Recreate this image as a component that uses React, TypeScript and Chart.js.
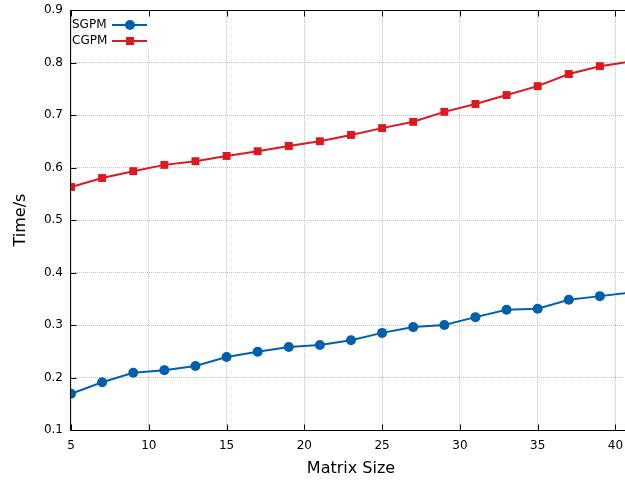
import React, { useEffect, useRef } from "react";
import { Chart, registerables } from "chart.js";

Chart.register(...registerables);

const matrixSizes = [5, 7, 9, 11, 13, 15, 17, 19, 21, 23, 25, 27, 29, 31, 33, 35, 37, 39, 41];
const sgpmTimes = [0.169, 0.191, 0.209, 0.214, 0.222, 0.239, 0.249, 0.258, 0.262, 0.271, 0.285, 0.296, 0.300, 0.315, 0.329, 0.331, 0.348, 0.355, 0.362];
const cgpmTimes = [0.563, 0.580, 0.593, 0.605, 0.612, 0.622, 0.631, 0.641, 0.650, 0.662, 0.675, 0.687, 0.706, 0.721, 0.738, 0.755, 0.778, 0.793, 0.802];
const seriesNames = ["SGPM", "CGPM"];
const seriesColors = ["#0060ad", "#dd181f"];
const xTicks = [5, 10, 15, 20, 25, 30, 35, 40];
const yTicks = [0.1, 0.2, 0.3, 0.4, 0.5, 0.6, 0.7, 0.8, 0.9];
const xTitle = "Matrix Size";
const yTitle = "Time/s";
const FONT = "'DejaVu Sans', sans-serif";

const framePlugin = {
  id: "frame",
  afterDraw(chart: any) {
    const { ctx, chartArea } = chart;
    const { left, right, top, bottom } = chartArea;
    const xs = chart.scales.x;
    const ys = chart.scales.y;
    ctx.save();
    // legend box
    ctx.fillStyle = "#ffffff";
    ctx.fillRect(left + 1, top + 1, 78, 36);
    ctx.font = `12px ${FONT}`;
    ctx.textBaseline = "middle";
    ctx.textAlign = "left";
    seriesNames.forEach((name, i) => {
      const cy = top + 15 + i * 16;
      ctx.fillStyle = "#000";
      ctx.fillText(name, left + 1, cy);
      ctx.strokeStyle = seriesColors[i];
      ctx.lineWidth = 2;
      ctx.beginPath();
      ctx.moveTo(left + 41, cy);
      ctx.lineTo(left + 76, cy);
      ctx.stroke();
      ctx.fillStyle = seriesColors[i];
      if (i === 0) {
        ctx.beginPath();
        ctx.arc(left + 59, cy, 5, 0, Math.PI * 2);
        ctx.fill();
      } else {
        ctx.fillRect(left + 55, cy - 4, 8, 8);
      }
    });
    // border
    ctx.strokeStyle = "#000";
    ctx.lineWidth = 1;
    ctx.beginPath();
    const L = Math.round(left) - 0.5;
    const R = Math.round(right) + 0.5;
    const T = Math.round(top) + 0.5;
    const B = Math.round(bottom) + 0.5;
    ctx.moveTo(L, T);
    ctx.lineTo(R, T);
    ctx.moveTo(L, T);
    ctx.lineTo(L, B);
    ctx.lineTo(R, B);
    ctx.lineTo(R, T);
    const tl = 6;
    xTicks.forEach((v) => {
      const px = Math.round(xs.getPixelForValue(v)) + 0.5;
      ctx.moveTo(px, B);
      ctx.lineTo(px, B - tl);
      ctx.moveTo(px, T);
      ctx.lineTo(px, T + tl);
    });
    yTicks.forEach((v) => {
      const py = Math.round(ys.getPixelForValue(v)) + 0.5;
      ctx.moveTo(L, py);
      ctx.lineTo(L + tl, py);
      ctx.moveTo(R, py);
      ctx.lineTo(R - tl, py);
    });
    ctx.stroke();
    ctx.restore();
  },
};

export default function App() {
  const ref = useRef<HTMLCanvasElement | null>(null);
  useEffect(() => {
    if (!ref.current) return;
    const chart = new Chart(ref.current, {
      type: "line",
      data: {
        datasets: [
          {
            label: seriesNames[0],
            data: matrixSizes.map((x, i) => ({ x, y: sgpmTimes[i] })),
            borderColor: seriesColors[0],
            backgroundColor: seriesColors[0],
            borderWidth: 2,
            pointStyle: "circle",
            pointRadius: 5,
            pointBorderWidth: 0,
            tension: 0,
          },
          {
            label: seriesNames[1],
            data: matrixSizes.map((x, i) => ({ x, y: cgpmTimes[i] })),
            borderColor: seriesColors[1],
            backgroundColor: seriesColors[1],
            borderWidth: 2,
            pointStyle: "rect",
            pointRadius: 5.6,
            pointBorderWidth: 0,
            tension: 0,
          },
        ],
      },
      options: {
        responsive: false,
        animation: false,
        layout: { autoPadding: false, padding: { top: 10, left: 0, right: 0, bottom: 0 } },
        plugins: { legend: { display: false }, tooltip: { enabled: false } },
        scales: {
          x: {
            type: "linear",
            min: 5,
            max: 41,
            afterBuildTicks: (s: any) => {
              s.ticks = xTicks.map((v) => ({ value: v }));
            },
            afterFit: (s: any) => {
              s.height = 50;
              s.paddingLeft = 0;
              s.paddingRight = 0;
            },
            grid: { color: "#c4c4c4", lineWidth: 1, drawTicks: false },
            border: { display: false, dash: [1, 1] },
            ticks: {
              padding: 9,
              maxRotation: 0,
              autoSkip: false,
              color: "#000",
              font: { family: FONT, size: 12 },
              callback: (v: any) => String(v),
            },
            title: {
              display: true,
              text: xTitle,
              color: "#000",
              font: { family: FONT, size: 16 },
              padding: { top: 0, bottom: 2 },
            },
          },
          y: {
            type: "linear",
            min: 0.1,
            max: 0.9,
            afterBuildTicks: (s: any) => {
              s.ticks = yTicks.map((v) => ({ value: v }));
            },
            afterFit: (s: any) => {
              s.width = 71;
              s.paddingTop = 0;
              s.paddingBottom = 0;
            },
            grid: { color: "#c4c4c4", lineWidth: 1, drawTicks: false },
            border: { display: false, dash: [1, 1] },
            ticks: {
              padding: 8,
              autoSkip: false,
              color: "#000",
              font: { family: FONT, size: 12 },
              callback: (v: any) => Number(v).toFixed(1),
            },
            title: {
              display: true,
              text: yTitle,
              color: "#000",
              font: { family: FONT, size: 16 },
              padding: { top: 11, bottom: 0 },
            },
          },
        },
      },
      plugins: [framePlugin],
    } as any);
    return () => chart.destroy();
  }, []);
  return (
    <div style={{ position: "fixed", left: 0, top: 0, width: 625, height: 480, overflow: "hidden", background: "#fff" }}>
      <canvas ref={ref} width={631} height={480} style={{ display: "block" }} />
    </div>
  );
}
